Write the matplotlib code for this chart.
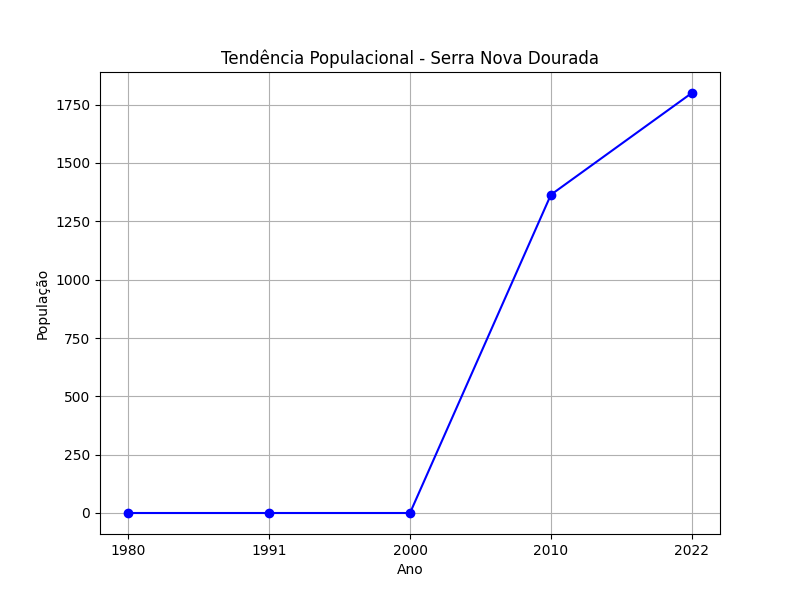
import matplotlib
matplotlib.use('Agg')
import matplotlib.pyplot as plt

anos = ['1980', '1991', '2000', '2010', '2022']
populacao = [0, 0, 0, 1364, 1800]


def main():
    plt.figure(figsize=(8, 6), dpi=100)
    plt.plot(anos, populacao, marker='o', linestyle='-', color='b')
    plt.title('Tendência Populacional - Serra Nova Dourada')
    plt.xlabel('Ano')
    plt.ylabel('População')
    plt.grid(True)
    plt.savefig('out.png')


if __name__ == "__main__":
    main()
